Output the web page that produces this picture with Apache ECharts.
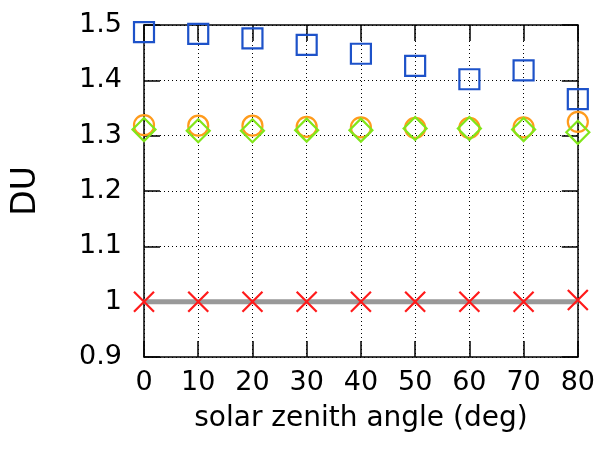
<!DOCTYPE html>
<html>
<head>
<meta charset="utf-8">
<script src="https://cdn.jsdelivr.net/npm/echarts@6/dist/echarts.min.js"></script>
<style>
  html, body { margin: 0; padding: 0; background: #fff; }
  #chart { width: 598px; height: 457px; }
</style>
</head>
<body>
<div id="chart"></div>
<script>
// Solar zenith angle (deg)
var angles = [0, 10, 20, 30, 40, 50, 60, 70, 80];

// Column values in DU for each retrieval
var squareVals  = [1.487, 1.484, 1.476, 1.464, 1.448, 1.426, 1.402, 1.418, 1.366];
var circleVals  = [1.319, 1.318, 1.318, 1.316, 1.315, 1.314, 1.314, 1.315, 1.325];
var diamondVals = [1.311, 1.309, 1.309, 1.310, 1.310, 1.313, 1.313, 1.311, 1.306];
var crossVals   = [1.000, 1.000, 1.000, 1.000, 1.000, 1.000, 1.000, 1.000, 1.003];
var referenceVals = [1.0, 1.0, 1.0, 1.0, 1.0, 1.0, 1.0, 1.0, 1.0];

var xTicks = { min: 0, max: 80, step: 10 };
var yTicks = { min: 0.9, max: 1.5, step: 0.1 };

function pairs(vals) {
  return angles.map(function (a, i) { return [a, vals[i]]; });
}

var FONT = 'DejaVu Sans';
var gridDots = { color: '#000', width: 1, type: [1, 3] };
var frame = { show: true, onZero: false, lineStyle: { color: '#000', width: 1.5 } };
var innerTick = { show: true, inside: true, length: 16, lineStyle: { color: '#000', width: 1.5 } };

function xAxis(pos, labels) {
  return {
    type: 'value', position: pos, min: xTicks.min, max: xTicks.max, interval: xTicks.step,
    axisLine: frame, axisTick: innerTick,
    splitLine: { show: labels, lineStyle: gridDots },
    axisLabel: { show: labels, fontFamily: FONT, fontSize: 27, color: '#000', margin: 12 },
    name: labels ? 'solar zenith angle (deg)' : '',
    nameLocation: 'middle', nameGap: 48,
    nameTextStyle: { fontFamily: FONT, fontSize: 28, color: '#000' }
  };
}
function yAxis(pos, labels) {
  return {
    type: 'value', position: pos, min: yTicks.min, max: yTicks.max, interval: yTicks.step,
    axisLine: frame, axisTick: innerTick,
    splitLine: { show: labels, lineStyle: gridDots },
    axisLabel: {
      show: labels, fontFamily: FONT, fontSize: 27, color: '#000', margin: 22,
      formatter: function (v) { return String(+v.toFixed(1)); }
    },
    name: labels ? 'DU' : '',
    nameLocation: 'middle', nameGap: 101,
    nameTextStyle: { fontFamily: FONT, fontSize: 33, color: '#000' }
  };
}

function markers(vals, symbol, size, color, z) {
  return {
    type: 'scatter', data: pairs(vals), symbol: symbol, symbolSize: size,
    clip: false, z: z, silent: true,
    itemStyle: { color: 'none', borderColor: color, borderWidth: 2.2, opacity: 1 }
  };
}

var chart = echarts.init(document.getElementById('chart'), null, { renderer: 'canvas' });
chart.setOption({
  animation: false,
  backgroundColor: '#fff',
  grid: { left: 144, right: 19, top: 25, bottom: 100, containLabel: false },
  xAxis: [xAxis('bottom', true), xAxis('top', false)],
  yAxis: [yAxis('left', true), yAxis('right', false)],
  series: [
    {
      type: 'line', data: pairs(referenceVals), symbol: 'none', z: 3, silent: true,
      lineStyle: { color: '#999999', width: 5 }
    },
    markers(squareVals, 'rect', 20, '#1d52c9', 5),
    markers(circleVals, 'circle', 20, '#ff9b1c', 5),
    markers(diamondVals, 'diamond', 23, '#80e61a', 6),
    markers(crossVals, 'path://M0,0L10,10M10,0L0,10', 20, '#ff1a1a', 6)
  ]
});
</script>
</body>
</html>
